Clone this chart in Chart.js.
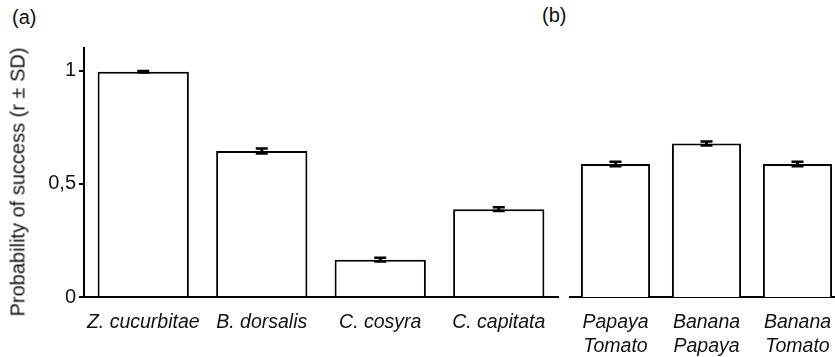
<!DOCTYPE html>
<html>
<head>
<meta charset="utf-8">
<script src="https://cdn.jsdelivr.net/npm/chart.js@4"></script>
<style>
  html, body { margin: 0; padding: 0; background: #fff; }
  body { width: 835px; height: 357px; position: relative; overflow: hidden; font-family: "Liberation Sans", Arial, sans-serif; }
  #wrapA { position: absolute; left: 0; top: 0; width: 562px; height: 357px; }
  #wrapB { position: absolute; left: 562px; top: 0; width: 290px; height: 357px; }
  .panel { position: absolute; font-size: 20px; color: #111; }
  #ytitle { position: absolute; left: 18px; top: 182px; font-size: 20px; color: #111; white-space: nowrap;
            transform: translate(-50%, -50%) rotate(-90deg); }
</style>
</head>
<body>
<div class="panel" style="left:12px;top:6px;">(a)</div>
<div class="panel" style="left:542px;top:4px;">(b)</div>
<div id="wrapA"><canvas id="chartA"></canvas></div>
<div id="wrapB"><canvas id="chartB"></canvas></div>
<div id="ytitle">Probability of success (r &plusmn; SD)</div>
<script>
// panel (a): species
var speciesLabels = ["Z. cucurbitae", "B. dorsalis", "C. cosyra", "C. capitata"];
var speciesValues = [0.995, 0.645, 0.165, 0.388];
var speciesSD = [0.003, 0.011, 0.008, 0.008];

// panel (b): fruit pairs
var pairLabels = [["Papaya", "Tomato"], ["Banana", "Papaya"], ["Banana", "Tomato"]];
var pairValues = [0.588, 0.678, 0.588];
var pairSD = [0.01, 0.009, 0.01];

// y axis
var yMin = 0;
var yMax = 1.1;
var yTickLabels = { 0: "0", 0.5: "0,5", 1: "1" };

var fontFamily = "'Liberation Sans', Arial, sans-serif";

// draws the SD marks on top of each bar through the y scale
var errorBars = {
  id: "errorBars",
  afterDatasetsDraw: function(chart, args, opts) {
    var ctx = chart.ctx;
    var yScale = chart.scales.y;
    var meta = chart.getDatasetMeta(0);
    var values = chart.data.datasets[0].data;
    ctx.save();
    ctx.strokeStyle = "#000";
    for (var i = 0; i < meta.data.length; i++) {
      var x = meta.data[i].x;
      var top = yScale.getPixelForValue(values[i] + opts.sd[i]);
      var bot = yScale.getPixelForValue(values[i] - opts.sd[i]);
      ctx.lineWidth = 2.5;
      ctx.beginPath();
      ctx.moveTo(x - 6, top); ctx.lineTo(x + 6, top);
      ctx.moveTo(x - 6, bot); ctx.lineTo(x + 6, bot);
      ctx.stroke();
      ctx.lineWidth = 3;
      ctx.beginPath();
      ctx.moveTo(x, top); ctx.lineTo(x, bot);
      ctx.stroke();
    }
    ctx.restore();
  }
};

function makeChart(id, labels, values, sd, showY, pad, barPct) {
  return new Chart(id, {
    type: "bar",
    data: {
      labels: labels,
      datasets: [{
        data: values,
        backgroundColor: "#fff",
        borderColor: "#000",
        borderWidth: 2,
        borderSkipped: "bottom",
        barPercentage: barPct,
        categoryPercentage: 1
      }]
    },
    options: {
      responsive: true,
      maintainAspectRatio: false,
      animation: false,
      layout: { padding: pad },
      plugins: {
        legend: { display: false },
        tooltip: { enabled: false },
        errorBars: { sd: sd }
      },
      scales: {
        x: {
          grid: { display: false, drawTicks: false },
          border: { display: true, color: "#000", width: 2 },
          ticks: {
            color: "#111",
            padding: 13,
            maxRotation: 0,
            autoSkip: false,
            font: { family: fontFamily, size: 19.5, style: "italic", lineHeight: 1.25 }
          },
          afterFit: function(scale) { scale.height = 60; }
        },
        y: {
          display: showY,
          min: yMin,
          max: yMax,
          grid: { drawOnChartArea: false, color: "#000", lineWidth: 2, tickLength: 5 },
          border: { display: true, color: "#000", width: 2 },
          ticks: {
            stepSize: 0.5,
            includeBounds: false,
            color: "#111",
            padding: 3,
            font: { family: fontFamily, size: 20 },
            callback: function(v) { return yTickLabels[v]; }
          },
          afterFit: function(scale) { if (showY) scale.width = 84; }
        }
      }
    },
    plugins: [errorBars]
  });
}

makeChart("chartA", speciesLabels, speciesValues, speciesSD, true,
  { top: 48, bottom: 0, left: 0, right: 4 }, 0.77);
makeChart("chartB", pairLabels, pairValues, pairSD, false,
  { top: 48, bottom: 0, left: 8, right: 9 }, 0.76);
</script>
</body>
</html>
